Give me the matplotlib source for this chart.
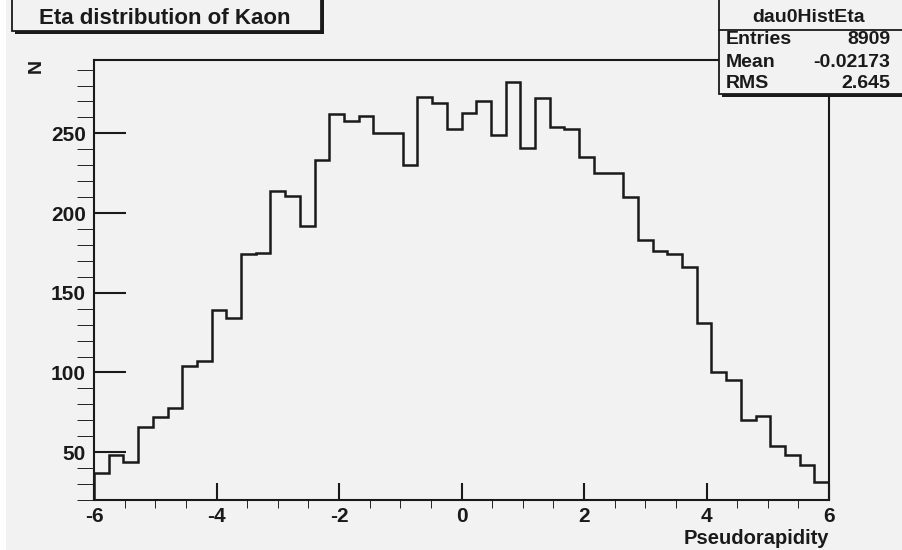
import numpy as np
import matplotlib
matplotlib.use("Agg")
import matplotlib.pyplot as plt
from matplotlib.patches import Rectangle
from matplotlib.ticker import MultipleLocator

# 50 bins of Kaon pseudorapidity between -6 and 6
eta_lo, eta_hi, n_bins = -6, 6, 50
counts = [37, 48, 44, 66, 72, 78, 104, 107, 139, 134,
          174, 175, 214, 211, 192, 233, 262, 258, 261, 250,
          250, 230, 273, 269, 253, 263, 270, 249, 282, 241,
          272, 254, 253, 235, 225, 225, 210, 183, 176, 174,
          166, 131, 100, 95, 70, 73, 54, 48, 42, 31]

hist_name = "dau0HistEta"
stat_names = ["Entries", "Mean", "RMS"]
stat_values = ["8909", "-0.02173", "2.645"]

title = "Eta distribution of Kaon"
x_title = "Pseudorapidity"
y_title = "N"

W, H = 902, 550
bg = "#f2f2f2"
ink = "#1a1a1a"
plt.rcParams['font.family'] = ['Liberation Sans', 'DejaVu Sans']
plt.rcParams['font.weight'] = 'bold'
plt.rcParams['axes.unicode_minus'] = False

fig = plt.figure(figsize=(W / 100, H / 100), dpi=100, facecolor=bg)


def fx(px):
    return px / W


def fy(py):
    return 1 - py / H


# frame in pixel units
left, right, top, bottom = 94, 829, 60, 500
ax = fig.add_axes([fx(left), fy(bottom), fx(right - left), (bottom - top) / H])
ax.set_facecolor(bg)

edges = np.linspace(eta_lo, eta_hi, n_bins + 1)
ax.stairs(counts, edges, color=ink, linewidth=1.8)

ax.set_xlim(eta_lo, eta_hi)
ax.set_ylim(20, 296)
ax.xaxis.set_major_locator(MultipleLocator(2))
ax.xaxis.set_minor_locator(MultipleLocator(0.5))
ax.yaxis.set_major_locator(MultipleLocator(50))
ax.yaxis.set_minor_locator(MultipleLocator(10))
ax.yaxis.set_major_formatter(lambda v, p: f"{v:.0f}" if v >= 50 else "")
ax.tick_params(direction='in', width=1.5, color=ink, labelsize=15,
               labelcolor=ink, top=False, right=False)
ax.tick_params(axis='x', which='major', length=12, pad=5)
ax.tick_params(axis='x', which='minor', length=6)
ax.tick_params(axis='y', which='major', length=23, pad=6)
ax.tick_params(axis='y', which='minor', length=12)
for s in ax.spines.values():
    s.set_linewidth(1.5)
    s.set_color(ink)

fig.text(fx(right), fy(538), x_title, ha='right', va='center',
         fontsize=14.5, color=ink)
fig.text(fx(36), fy(66), y_title, ha='center', va='center',
         rotation=90, fontsize=14, color=ink)

# white strip on the left edge of the canvas
fig.patches.append(Rectangle((0, 0), fx(6), 1, transform=fig.transFigure,
                             facecolor='white', edgecolor='none', zorder=0))


def shadow_box(x0, y0, x1, y1, z=5):
    # ROOT-style pave: dark shadow shifted down-right, then the box
    fig.patches.append(Rectangle((fx(x0 + 3), fy(y1 + 3)), fx(x1 - x0), (y1 - y0) / H,
                                 transform=fig.transFigure, facecolor=ink,
                                 edgecolor='none', zorder=z))
    fig.patches.append(Rectangle((fx(x0), fy(y1)), fx(x1 - x0), (y1 - y0) / H,
                                 transform=fig.transFigure, facecolor=bg,
                                 edgecolor=ink, linewidth=1.3, zorder=z + 1))


# title pave
shadow_box(12, -10, 321, 31)
fig.text(fx(165), fy(19), title, ha='center', va='center', fontsize=16,
         color=ink, zorder=10)

# stats pave
shadow_box(719, -10, 910, 94)
fig.add_artist(plt.Line2D([fx(719), fx(910)], [fy(30), fy(30)],
                          transform=fig.transFigure, color=ink,
                          linewidth=1.3, zorder=8))
fig.text(fx(809), fy(18), hist_name, ha='center', va='center', fontsize=14,
         color=ink, zorder=10)
for i, (name, val) in enumerate(zip(stat_names, stat_values)):
    yy = fy(40 + 22 * i)
    fig.text(fx(726), yy, name, ha='left', va='center', fontsize=14,
             color=ink, zorder=10)
    fig.text(fx(890), yy, val, ha='right', va='center', fontsize=14,
             color=ink, zorder=10)

fig.savefig("out.png", dpi=100, facecolor=bg)
